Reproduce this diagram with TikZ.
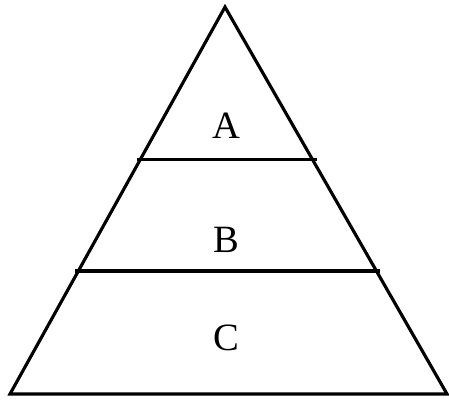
\documentclass[tikz,border=0pt]{standalone}
\usepackage{fontspec}
\setmainfont{Liberation Serif}
\usetikzlibrary{calc}
\tikzset{
  edge/.style={line width=1.8pt, line join=miter},
  tier/.style={line width=1.8pt},
  lbl/.style={font=\fontsize{22}{26}\selectfont, inner sep=0pt},
}

\begin{document}
\begin{tikzpicture}[x=0.02cm, y=-0.02cm]
        \useasboundingbox (0,0) rectangle (449,400);
        \coordinate (top) at (225,7);
        \coordinate (bl) at (10,394);
        \coordinate (br) at (447,394);
        \coordinate (l1) at ($(top)!0.395!(bl)+(-3,0)$);
        \coordinate (r1) at ($(top)!0.395!(br)+(4,0)$);
        \coordinate (l2) at ($(top)!0.682!(bl)+(-3,0)$);
        \coordinate (r2) at ($(top)!0.682!(br)+(4,0)$);
        \draw[edge](bl)--(top)--(br)--cycle;
        \draw[tier](l1)--(r1); \draw[tier](l2)--(r2);
        \node[lbl](a) at (226,126){A};
        \node[lbl](b) at (226,240){B};
        \node[lbl](c) at (226,338){C};
      \end{tikzpicture}
\end{document}
